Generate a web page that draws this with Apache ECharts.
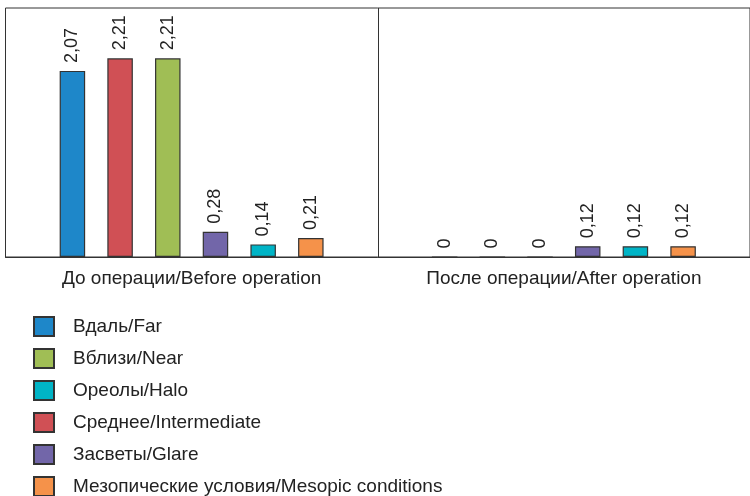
<!DOCTYPE html>
<html>
<head>
<meta charset="utf-8">
<script src="https://cdn.jsdelivr.net/npm/echarts@6/dist/echarts.min.js"></script>
<style>
  html, body { margin: 0; padding: 0; background: #fff; }
  #chart { width: 750px; height: 496px; }
</style>
</head>
<body>
<div id="chart"></div>
<script>
// Groups on the category axis
const categories = ['До операции/Before operation', 'После операции/After operation'];

// Series names, in the order the bars stand within each group
const seriesNames = [
  'Вдаль/Far',
  'Среднее/Intermediate',
  'Вблизи/Near',
  'Засветы/Glare',
  'Ореолы/Halo',
  'Мезопические условия/Mesopic conditions'
];

// Values per series: [before, after]
const farValues = [2.07, 0];
const intermediateValues = [2.21, 0];
const nearValues = [2.21, 0];
const glareValues = [0.28, 0.12];
const haloValues = [0.14, 0.12];
const mesopicValues = [0.21, 0.12];

// Legend listing order
const legendOrder = [
  'Вдаль/Far',
  'Вблизи/Near',
  'Ореолы/Halo',
  'Среднее/Intermediate',
  'Засветы/Glare',
  'Мезопические условия/Mesopic conditions'
];

const seriesValues = [farValues, intermediateValues, nearValues, glareValues, haloValues, mesopicValues];
const seriesColors = ['#1e87c9', '#d05055', '#a0be55', '#7266a9', '#00b4c6', '#f5924a'];

const fontFamily = "'Liberation Sans', Arial, Helvetica, sans-serif";

const chart = echarts.init(document.getElementById('chart'), null, { renderer: 'canvas' });

const series = seriesNames.map((name, i) => ({
  name: name,
  type: 'bar',
  data: seriesValues[i],
  barWidth: 25.5,
  barGap: '87%',
  itemStyle: {
    color: seriesColors[i],
    borderColor: '#333',
    borderWidth: 1.2
  },
  label: {
    show: true,
    position: 'top',
    rotate: 90,
    align: 'left',
    verticalAlign: 'middle',
    distance: 8,
    fontSize: 18,
    fontFamily: fontFamily,
    color: '#222',
    formatter: p => String(p.value).replace('.', ',')
  }
}));

chart.setOption({
  animation: false,
  backgroundColor: '#fff',
  textStyle: { fontFamily: fontFamily },
  grid: {
    left: 5.5,
    top: 8,
    width: 751.5,
    height: 249,
    show: true,
    borderColor: '#333',
    borderWidth: 1
  },
  legend: {
    data: legendOrder,
    orient: 'vertical',
    left: 33,
    top: 316,
    height: 220,
    padding: 0,
    itemWidth: 20,
    itemHeight: 19,
    itemGap: 11,
    icon: 'rect',
    textStyle: {
      fontSize: 19,
      color: '#222',
      fontFamily: fontFamily,
      padding: [0, 0, 0, 14]
    }
  },
  xAxis: {
    type: 'category',
    data: categories,
    axisLine: { show: true, lineStyle: { color: '#333', width: 1 } },
    axisTick: { show: false },
    splitLine: { show: true, interval: 0, lineStyle: { color: '#333', width: 1 } },
    axisLabel: {
      fontSize: 19,
      color: '#222',
      margin: 12,
      fontFamily: fontFamily
    }
  },
  yAxis: {
    type: 'value',
    min: 0,
    max: 2.77,
    axisLine: { show: false },
    axisTick: { show: false },
    axisLabel: { show: false },
    splitLine: { show: false }
  },
  series: series
});
</script>
</body>
</html>
